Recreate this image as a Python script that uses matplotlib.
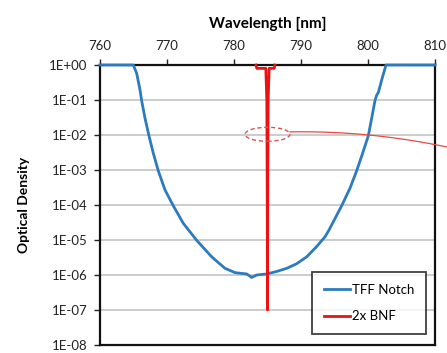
import numpy as np
import matplotlib
matplotlib.use("Agg")
import matplotlib.pyplot as plt
from matplotlib.patches import Ellipse
from matplotlib.ticker import FixedLocator, FuncFormatter

plt.rcParams['font.family'] = ['Lato', 'DejaVu Sans']

# TFF notch filter, optical density vs wavelength
tff_wl = [760, 764.97, 765.48, 765.97, 766.22, 766.72, 767.31, 767.96, 768.70,
          769.70, 770.94, 772.43, 774.43, 776.67, 778.66, 780.15, 780.9, 781.9,
          782.64, 783.39, 784.88, 786.37, 787.87, 789.36, 790.85, 792.34, 793.58,
          794.2, 796.07, 797.31, 798.31, 799.2, 800.05, 800.55, 801.04, 801.3,
          801.54, 802.04, 802.69, 810]
tff_od = [1.0, 1.0, 0.575, 0.195, 0.095, 0.030, 9.5e-3, 3.0e-3, 9.5e-4,
          2.7e-4, 9.5e-5, 3.0e-5, 9.8e-6, 3.3e-6, 1.55e-6, 1.17e-6, 1.12e-6, 1.07e-6,
          8.5e-7, 1.0e-6, 1.07e-6, 1.26e-6, 1.55e-6, 2.1e-6, 3.3e-6, 6.5e-6, 1.23e-5,
          1.95e-5, 9.5e-5, 3.0e-4, 9.5e-4, 3.0e-3, 9.5e-3, 0.030, 0.095, 0.138,
          0.162, 0.37, 1.0, 1.0]

# 2x BNF (Bragg notch filter)
bnf_wl = [783.3, 783.4, 784.75, 784.9, 784.97, 785.0, 785.03, 785.1, 785.25, 786.0, 786.1]
bnf_od = [1.0, 0.8, 0.8, 0.1, 1e-4, 1e-7, 1e-4, 0.1, 0.8, 0.8, 1.0]

x_ticks = [760, 770, 780, 790, 800, 810]
y_ticks = [1e0, 1e-1, 1e-2, 1e-3, 1e-4, 1e-5, 1e-6, 1e-7, 1e-8]

blue = '#2c7bbf'
red = '#ee1111'

fig = plt.figure(figsize=(4.47, 3.53), dpi=100)
ax = fig.add_axes([0.2237, 0.0227, 0.7494, 0.7932])

ax.set_yscale('log')
ax.set_xlim(760, 810)
ax.set_ylim(1e-8, 1e0)

for yv in y_ticks[1:-1]:
    ax.axhline(yv, color='#c8c8c8', lw=1.3, zorder=0)

ax.plot(tff_wl, tff_od, color=blue, lw=2, label='TFF Notch', clip_on=False, zorder=3)
ax.plot(bnf_wl, bnf_od, color=red, lw=2, label='2x BNF', clip_on=False, zorder=4)

ax.xaxis.set_major_locator(FixedLocator(x_ticks))
ax.yaxis.set_major_locator(FixedLocator(y_ticks))
ax.yaxis.set_minor_locator(FixedLocator([]))
ax.yaxis.set_major_formatter(FuncFormatter(lambda v, p: '1E%+03d' % int(round(np.log10(v)))))
ax.xaxis.tick_top()
ax.xaxis.set_label_position('top')
ax.tick_params(axis='both', direction='out', length=4, width=1, labelsize=9.5, colors='#222222')
ax.tick_params(axis='x', pad=5)
ax.tick_params(axis='y', pad=5)
for s in ax.spines.values():
    s.set_linewidth(1.6)
    s.set_color('#111111')

ax.set_xlabel('Wavelength [nm]', fontsize=11, fontweight='bold', labelpad=9)
ax.set_ylabel('Optical Density', fontsize=10, fontweight='bold', labelpad=14)

# dashed ellipse and thin pointer line
ax.add_patch(Ellipse((0.5, 0.7525), 0.134, 0.05, transform=ax.transAxes, fill=False,
                     ec='#d9534f', lw=1, ls=(0, (3, 2)), zorder=5))
t = np.linspace(0, 1, 30)
px = 0.567 + t * (1.04 - 0.567)
py = 0.761 + 0.01 * t - 0.065 * t ** 2
ax.plot(px, py, transform=ax.transAxes, color='#e8494a', lw=0.9, clip_on=False, zorder=5)

leg = ax.legend(loc='lower right', bbox_to_anchor=(0.973, 0.039), fontsize=9.5,
                frameon=True, fancybox=False, edgecolor='#111111', handlelength=2.0,
                borderpad=0.9, labelspacing=1.1, handletextpad=0.1, borderaxespad=0)
leg.get_frame().set_linewidth(1.3)

fig.savefig('out.png', dpi=100)
